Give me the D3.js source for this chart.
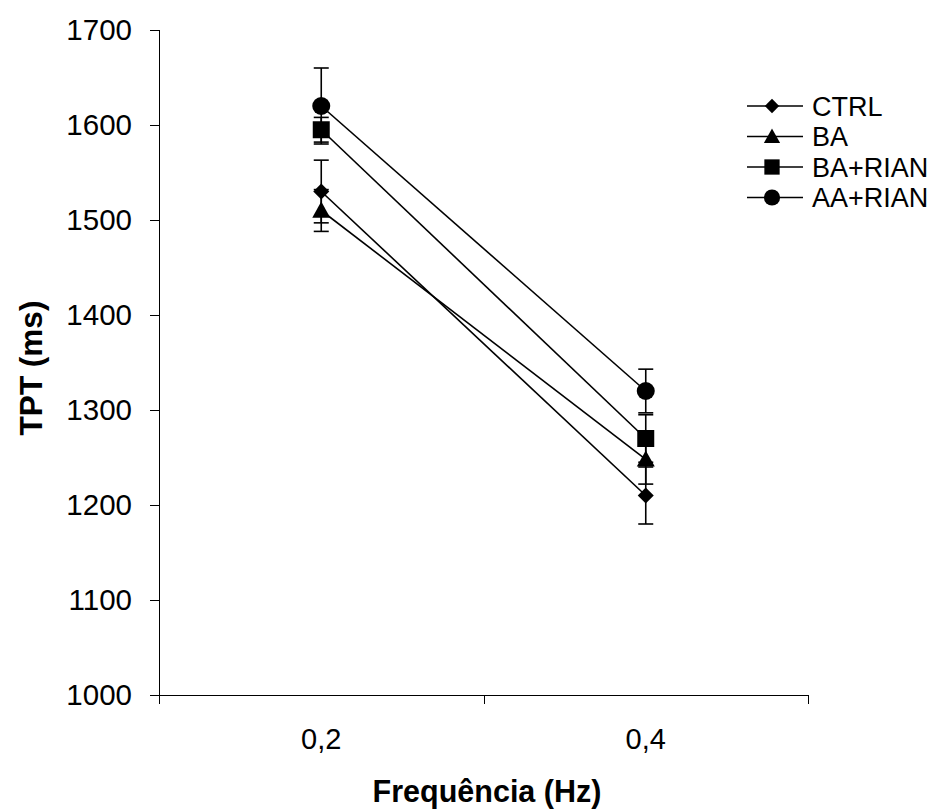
<!DOCTYPE html>
<html><head><meta charset="utf-8">
<script src="https://cdn.jsdelivr.net/npm/d3@7"></script>
<style>body{margin:0;background:#fff}</style>
</head><body>
<svg id="c" width="933" height="812"></svg>
<script>
const categories = ["0,2", "0,4"];
const seriesNames = ["CTRL", "BA", "BA+RIAN", "AA+RIAN"];
const seriesSymbols = ["diamond", "triangle", "square", "circle"];
const ctrlValues = [1530, 1210];
const baValues = [1510, 1248];
const baRianValues = [1595, 1270];
const aaRianValues = [1620, 1320];
const ctrlErr = [33, 30];
const baErr = [22, 26];
const baRianErr = [13, 25];
const aaRianErr = [40, 23];
const yTicks = [1000, 1100, 1200, 1300, 1400, 1500, 1600, 1700];

(function () {
const values = [ctrlValues, baValues, baRianValues, aaRianValues];
const errs = [ctrlErr, baErr, baRianErr, aaRianErr];

const svg = d3.select("#c");
const mLeft = 159, mRight = 808, mTop = 30, mBottom = 695;
const x = d3.scaleBand().domain(categories).range([mLeft, mRight]);
const y = d3.scaleLinear().domain([1000, 1700]).range([mBottom, mTop]);
const font = "Liberation Sans, Arial, sans-serif";

// axes
const yAxis = svg.append("g").attr("transform", `translate(${mLeft},0)`)
  .call(d3.axisLeft(y).tickValues(yTicks).tickSize(9).tickPadding(18).tickFormat(d3.format("d")));
yAxis.selectAll("text").attr("font-family", font).attr("font-size", 29.5).attr("fill", "#000");
yAxis.select(".domain").attr("d", `M0.5,${mTop}V${mBottom}`);

const xAxis = svg.append("g").attr("transform", `translate(0,${mBottom})`)
  .call(d3.axisBottom(x).tickSize(0).tickPadding(33));
xAxis.select(".domain").remove();
xAxis.selectAll("text").attr("font-family", font).attr("font-size", 29).attr("fill", "#000");
xAxis.append("line").attr("x1", mLeft).attr("x2", mRight).attr("y1", 0.5).attr("y2", 0.5).attr("stroke", "#000");
const bounds = [mLeft, ...categories.map(c => x(c) + x.bandwidth())];
xAxis.selectAll(".bt").data(bounds).enter().append("line")
  .attr("x1", d => Math.round(d) + 0.5).attr("x2", d => Math.round(d) + 0.5)
  .attr("y1", 0).attr("y2", 9).attr("stroke", "#000");
svg.selectAll(".domain, .tick line").attr("stroke", "#000");

// titles
svg.append("text").attr("transform", "translate(42,368) rotate(-90)")
  .attr("text-anchor", "middle").attr("font-family", font).attr("font-weight", "bold")
  .attr("font-size", 31.5).text("TPT (ms)");
svg.append("text").attr("x", 487).attr("y", 802)
  .attr("text-anchor", "middle").attr("font-family", font).attr("font-weight", "bold")
  .attr("font-size", 30.5).text("Frequência (Hz)");

const cx = c => x(c) + x.bandwidth() / 2;

// custom symbol types (size = full width in px)
const symType = {
  diamond: {draw(ctx, s) { const h = s / 2; ctx.moveTo(0, -h); ctx.lineTo(h, 0); ctx.lineTo(0, h); ctx.lineTo(-h, 0); ctx.closePath(); }},
  triangle: {draw(ctx, s) { const h = s / 2; ctx.moveTo(0, -h); ctx.lineTo(h, h * 0.8); ctx.lineTo(-h, h * 0.8); ctx.closePath(); }},
  square: {draw(ctx, s) { const h = s / 2; ctx.rect(-h, -h, s, s); }},
  circle: {draw(ctx, s) { const h = s / 2; ctx.moveTo(h, 0); ctx.arc(0, 0, h, 0, 2 * Math.PI); }}
};
const symSize = {diamond: 16, triangle: 18, square: 17, circle: 18};

// lines
const line = d3.line().x((d, i) => cx(categories[i])).y(d => y(d));
values.forEach(v => {
  svg.append("path").attr("d", line(v)).attr("fill", "none").attr("stroke", "#000").attr("stroke-width", 1.6);
});

// error bars
values.forEach((v, s) => {
  v.forEach((val, i) => {
    const px = cx(categories[i]);
    const e = errs[s][i];
    const g = svg.append("g").attr("stroke", "#000").attr("stroke-width", 1.6);
    g.append("line").attr("x1", px).attr("x2", px).attr("y1", y(val - e)).attr("y2", y(val + e));
    [val - e, val + e].forEach(t => {
      g.append("line").attr("x1", px - 7.5).attr("x2", px + 7.5).attr("y1", y(t)).attr("y2", y(t));
    });
  });
});

// markers
values.forEach((v, s) => {
  const sym = seriesSymbols[s];
  v.forEach((val, i) => {
    svg.append("path").attr("d", d3.symbol(symType[sym], symSize[sym])())
      .attr("transform", `translate(${cx(categories[i])},${y(val)})`).attr("fill", "#000");
  });
});

// legend
const legY = [106, 136.5, 167, 197.5];
seriesNames.forEach((n, s) => {
  const g = svg.append("g").attr("transform", `translate(0,${legY[s]})`);
  g.append("line").attr("x1", 747).attr("x2", 803).attr("y1", 0).attr("y2", 0).attr("stroke", "#000").attr("stroke-width", 1.6);
  const sym = seriesSymbols[s];
  g.append("path").attr("d", d3.symbol(symType[sym], symSize[sym] * 0.9)()).attr("transform", "translate(772,0)").attr("fill", "#000");
  g.append("text").attr("x", 812).attr("y", 9.5).attr("font-family", font).attr("font-size", 27).text(n);
});
})();
</script>
</body></html>
